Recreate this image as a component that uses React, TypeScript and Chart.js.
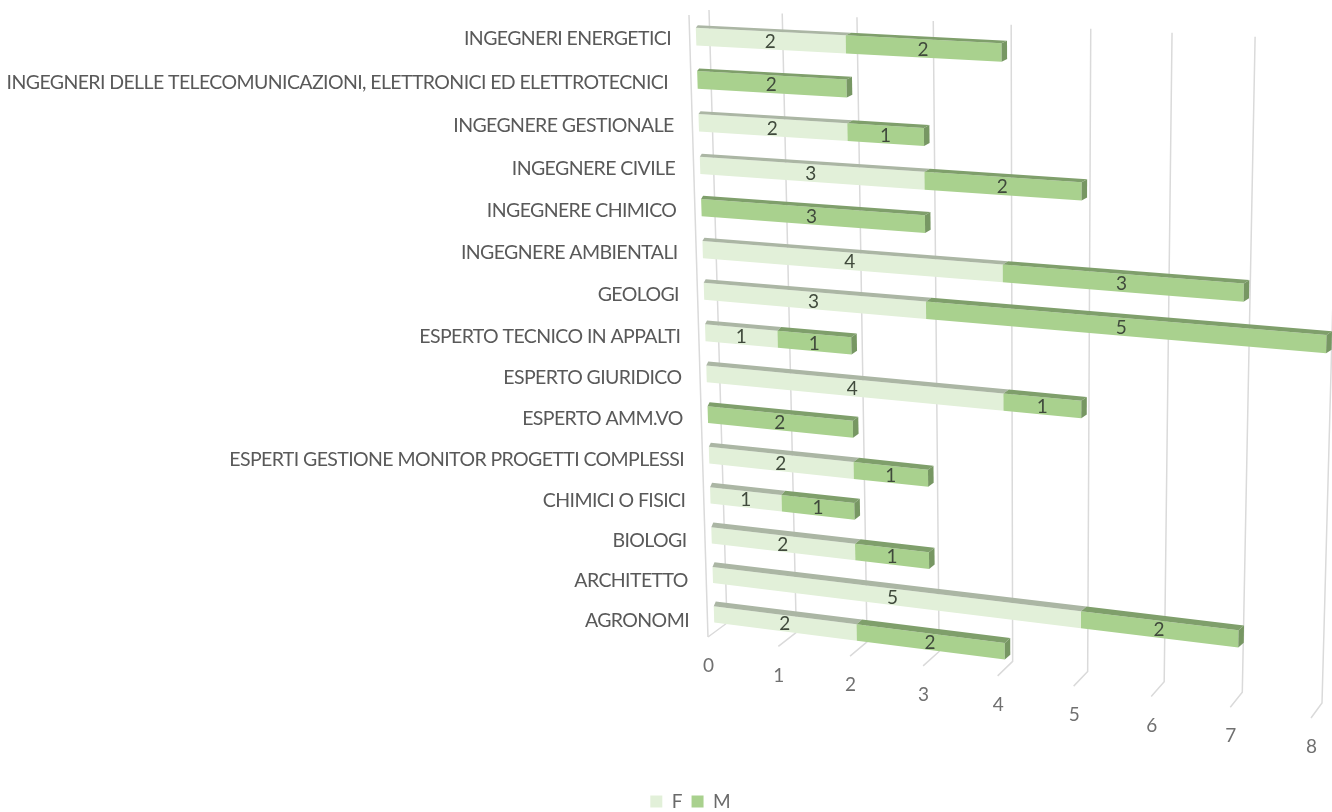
import React, { useEffect, useRef } from "react";
import { Chart, registerables } from "chart.js";

Chart.register(...registerables);

const categories = [
  "INGEGNERI ENERGETICI",
  "INGEGNERI DELLE TELECOMUNICAZIONI, ELETTRONICI ED ELETTROTECNICI ",
  "INGEGNERE GESTIONALE",
  "INGEGNERE CIVILE",
  "INGEGNERE CHIMICO",
  "INGEGNERE AMBIENTALI",
  "GEOLOGI",
  "ESPERTO TECNICO IN APPALTI",
  "ESPERTO GIURIDICO",
  "ESPERTO AMM.VO",
  "ESPERTI GESTIONE MONITOR PROGETTI COMPLESSI",
  "CHIMICI O FISICI",
  "BIOLOGI",
  "ARCHITETTO",
  "AGRONOMI",
];
const femaleCounts = [2, 0, 2, 3, 0, 4, 3, 1, 4, 0, 2, 1, 2, 5, 2];
const maleCounts = [2, 2, 1, 2, 3, 3, 5, 1, 1, 2, 1, 1, 1, 2, 2];

type P = [number, number];

// Perspective map from the unit square onto a quadrilateral (TL, TR, BR, BL).
function perspective(p0: P, p1: P, p2: P, p3: P) {
  const sx = p0[0] - p1[0] + p2[0] - p3[0];
  const sy = p0[1] - p1[1] + p2[1] - p3[1];
  const dx1 = p1[0] - p2[0];
  const dy1 = p1[1] - p2[1];
  const dx2 = p3[0] - p2[0];
  const dy2 = p3[1] - p2[1];
  const den = dx1 * dy2 - dx2 * dy1;
  const g = (sx * dy2 - dx2 * sy) / den;
  const h = (dx1 * sy - sx * dy1) / den;
  const a = p1[0] - p0[0] + g * p1[0];
  const b = p3[0] - p0[0] + h * p3[0];
  const d = p1[1] - p0[1] + g * p1[1];
  const e = p3[1] - p0[1] + h * p3[1];
  return (u: number, w: number): P => {
    const q = g * u + h * w + 1;
    return [(a * u + b * w + p0[0]) / q, (d * u + e * w + p0[1]) / q];
  };
}

// Plane of the bars' front faces and plane of the back wall.
const barPlane = perspective([695.4, 15], [1333, 46], [1318, 712], [714.6, 634]);
const wallPlane = perspective([709, 10], [1340, 41], [1322, 703], [727, 623]);

const floorFront = (u: number): P => {
  const [x, y] = wallPlane(u, 1);
  return [x - 19 + 8 * u, y + 14 + u];
};

const faces = [
  { front: "#E2F0D9", top: "#ABB6A4", side: "#9DAA96" },
  { front: "#A9D18E", top: "#7F9F6B", side: "#779763" },
];

const FONT = "Lato, 'Noto Sans', sans-serif";

function poly(ctx: CanvasRenderingContext2D, pts: P[], fill: string) {
  ctx.beginPath();
  pts.forEach((p, i) => (i ? ctx.lineTo(p[0], p[1]) : ctx.moveTo(p[0], p[1])));
  ctx.closePath();
  ctx.fillStyle = fill;
  ctx.fill();
}

const projectedBars = {
  id: "projectedBars",
  beforeDatasetsDraw(chart: any) {
    const { ctx, chartArea: area, scales } = chart;
    const toU = (px: number) => (px - area.left) / area.width;
    const toW = (py: number) => (py - area.top) / area.height;

    ctx.save();
    ctx.lineWidth = 1.5;
    ctx.strokeStyle = "#DADADA";

    // Side wall edge, then one wall line plus floor line per value tick
    const stroke = (pts: P[]) => {
      ctx.beginPath();
      pts.forEach((p, i) => (i ? ctx.lineTo(p[0], p[1]) : ctx.moveTo(p[0], p[1])));
      ctx.stroke();
    };
    stroke([[689, 15], floorFront(0)]);

    ctx.textAlign = "center";
    ctx.textBaseline = "middle";
    ctx.font = `19px ${FONT}`;
    scales.x.ticks.forEach((tick: any) => {
      const u = toU(scales.x.getPixelForValue(tick.value));
      const end = floorFront(u);
      stroke([wallPlane(u, 0), wallPlane(u, 1), end]);
      ctx.fillStyle = "#707070";
      ctx.fillText(String(tick.value), end[0] + 0.5, end[1] + 29);
    });

    // Category names sit left of the bar plane and follow its slant
    ctx.textAlign = "right";
    ctx.fillStyle = "#595959";
    ctx.font = `19.5px ${FONT}`;
    ctx.letterSpacing = "-0.6px";
    scales.y.getLabels().forEach((label: string, i: number) => {
      const w = toW(scales.y.getPixelForValue(i));
      const [x, y] = barPlane(0, w);
      ctx.fillText(label, x - 25, y + 2 + 4 * w);
    });
    ctx.letterSpacing = "0px";

    // Bars: front face, top face, end face; labels go on afterwards
    const labels: { x: number; y: number; text: string }[] = [];
    [0, 1].forEach((ds) => {
      const values = chart.data.datasets[ds].data;
      chart.getDatasetMeta(ds).data.forEach((bar: any, i: number) => {
        if (!values[i]) return;
        const { x, y, base, height } = bar.getProps(["x", "y", "base", "height"]);
        const u0 = toU(base);
        const u1 = toU(x);
        const w0 = toW(y - height / 2);
        const w1 = toW(y + height / 2);
        const tl = barPlane(u0, w0);
        const tr = barPlane(u1, w0);
        const br = barPlane(u1, w1);
        const bl = barPlane(u0, w1);
        const lift = 2.5 + 2.5 * w0;
        const shift = (u: number) => 2 + Math.min(3.5, u * 14);
        poly(ctx, [tl, tr, br, bl], faces[ds].front);
        poly(
          ctx,
          [
            tl,
            [tl[0] + shift(u0), tl[1] - lift],
            [tr[0] + shift(u1), tr[1] - lift],
            tr,
          ],
          faces[ds].top
        );
        if (ds === 1) {
          poly(
            ctx,
            [
              tr,
              [tr[0] + shift(u1), tr[1] - lift],
              [br[0] + shift(u1), br[1] - lift],
              br,
            ],
            faces[ds].side
          );
        }
        const c = barPlane((u0 + u1) / 2, (w0 + w1) / 2);
        labels.push({ x: c[0], y: c[1] + 1, text: String(values[i]) });
      });
    });

    ctx.textAlign = "center";
    ctx.font = `19px ${FONT}`;
    ctx.fillStyle = "#404A3C";
    labels.forEach((l) => ctx.fillText(l.text, l.x, l.y));
    ctx.restore();
    return false;
  },
};

export default function App() {
  const ref = useRef<HTMLCanvasElement>(null);

  useEffect(() => {
    const chart = new Chart(ref.current!, {
      type: "bar",
      data: {
        labels: categories,
        datasets: [
          {
            label: "F",
            data: femaleCounts,
            backgroundColor: faces[0].front,
            barPercentage: 0.41,
            categoryPercentage: 1,
          },
          {
            label: "M",
            data: maleCounts,
            backgroundColor: faces[1].front,
            barPercentage: 0.41,
            categoryPercentage: 1,
          },
        ],
      },
      options: {
        indexAxis: "y",
        responsive: false,
        animation: false,
        layout: { padding: { left: 49, bottom: -9 } },
        scales: {
          x: {
            display: false,
            stacked: true,
            min: 0,
            max: 8,
            ticks: { stepSize: 1 },
          },
          y: { display: false, stacked: true },
        },
        plugins: {
          tooltip: { enabled: false },
          legend: {
            position: "bottom",
            labels: {
              boxWidth: 12,
              boxHeight: 12,
              padding: 9,
              color: "#6A6A6A",
              font: { family: FONT, size: 19 },
            },
          },
        },
      },
      plugins: [projectedBars],
    } as any);
    return () => chart.destroy();
  }, []);

  return (
    <div style={{ position: "fixed", left: 0, top: 0, width: 1332, height: 812, background: "#fff" }}>
      <canvas ref={ref} width={1332} height={812} style={{ display: "block" }} />
    </div>
  );
}
